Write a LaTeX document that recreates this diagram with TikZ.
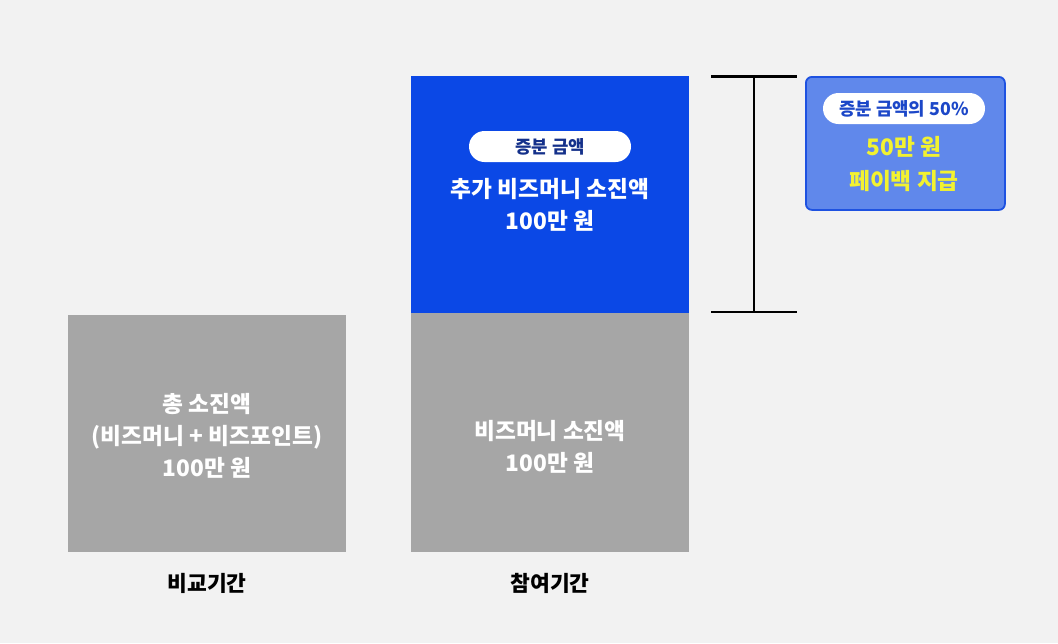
\documentclass[tikz,border=0pt]{standalone}
\usepackage{fontspec}
\setmainfont{Noto Sans CJK KR}
\definecolor{bg}{HTML}{F2F2F2}
\definecolor{barGray}{HTML}{A6A6A6}
\definecolor{barBlue}{HTML}{0B48E6}
\definecolor{calloutFill}{HTML}{6088EB}
\definecolor{calloutLine}{HTML}{1E52E1}
\definecolor{pillText}{HTML}{14308A}
\definecolor{pillTextB}{HTML}{1C47C8}
\definecolor{payYellow}{HTML}{F2F230}
\begin{document}
\begin{tikzpicture}[x=1pt,y=-1pt,
  bar/.style={draw=none,inner sep=0pt,anchor=north west},
  bigtext/.style={text=white,align=center,font=\bfseries\fontsize{22.7}{32}\selectfont},
  pill/.style={fill=white,rounded corners=15.5pt,minimum width=162pt,minimum height=31pt,inner sep=0pt,font=\bfseries\fontsize{17.8}{20}\selectfont,text=pillText},
  periodlabel/.style={font=\bfseries\fontsize{21.5}{24}\selectfont,text=black},
  brk/.style={draw=black,line width=2.2pt}]
\fill[bg] (0,0) rectangle (1058,643);
\useasboundingbox (0,0) rectangle (1058,643);
% bars
\node[bar,fill=barGray,minimum width=278pt,minimum height=237pt] (leftbar) at (68,315) {};
\node[bar,fill=barGray,minimum width=278pt,minimum height=239pt] (rightbar) at (411,313) {};
\node[bar,fill=barBlue,minimum width=278pt,minimum height=237pt] (bluebar) at (411,76) {};
% texts in bars
\node[bigtext] (lefttext) at (207,436) {총 소진액\\(비즈머니 + 비즈포인트)\\100만 원};
\node[bigtext] (righttext) at (550,447) {비즈머니 소진액\\100만 원};
\node[pill] (bluepill) at (550,146.5) {증분 금액};
\node[bigtext] (bluetext) at (550,205) {추가 비즈머니 소진액\\100만 원};
% period labels
\node[periodlabel] (leftlabel) at (207,583) {비교기간};
\node[periodlabel] (rightlabel) at (550,583) {참여기간};
% bracket
\coordinate (btl) at (711,76.5);
\coordinate (btr) at (797,76.5);
\coordinate (bbl) at (711,312);
\coordinate (bbr) at (797,312);
\coordinate (bvt) at (754,76.5);
\coordinate (bvb) at (754,312);
\draw[brk] (btl) -- (btr);
\draw[brk] (bbl) -- (bbr);
\draw[brk] (bvt) -- (bvb);
% callout
\node[bar,fill=calloutFill,draw=calloutLine,line width=1.8pt,rounded corners=6pt,minimum width=199pt,minimum height=133pt] (callout) at (805,76) {};
\node[pill,text=pillTextB] (calloutpill) at (904,108.5) {증분 금액의 50\%};
\node[align=center,text=payYellow,font=\bfseries\fontsize{22.7}{34}\selectfont] (paytext) at (904,164) {50만 원\\페이백 지급};
\end{tikzpicture}
\end{document}
